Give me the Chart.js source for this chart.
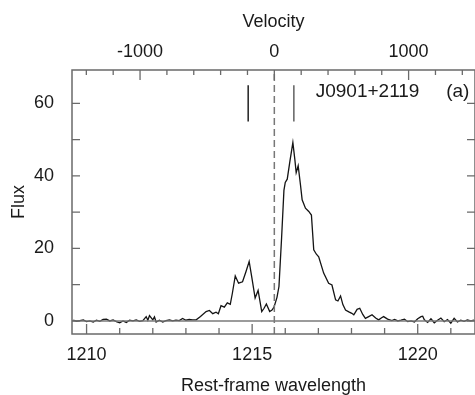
<!DOCTYPE html>
<html>
<head>
<meta charset="utf-8">
<script src="https://cdn.jsdelivr.net/npm/chart.js@4/dist/chart.umd.min.js"></script>
<style>
  body { margin: 0; background: #fff; }
  canvas { display: block; }
</style>
</head>
<body>
<canvas id="lyaChart" width="475" height="395"></canvas>
<script>
// Lyman-alpha profile of J0901+2119, rest frame

const wavelength = [
  1209.6, 1209.7, 1209.8, 1209.9, 1210.0, 1210.1, 1210.2, 1210.3, 1210.4, 1210.5,
  1210.6, 1210.7, 1210.8, 1210.9, 1211.0, 1211.1, 1211.2, 1211.3, 1211.4, 1211.5,
  1211.6, 1211.7, 1211.8, 1211.85, 1211.9, 1212.0, 1212.05, 1212.1, 1212.2, 1212.3,
  1212.4, 1212.5, 1212.6, 1212.7, 1212.8, 1212.9, 1213.0, 1213.1, 1213.2,
  1213.31, 1213.44, 1213.61, 1213.71, 1213.81, 1213.91, 1213.98, 1214.06, 1214.16, 1214.25,
  1214.34, 1214.40, 1214.49, 1214.59, 1214.71, 1214.81, 1214.91, 1214.99, 1215.09, 1215.18,
  1215.29, 1215.36, 1215.43, 1215.53, 1215.60, 1215.66, 1215.75, 1215.81, 1215.89, 1215.96,
  1216.00, 1216.06, 1216.14, 1216.23, 1216.29, 1216.33, 1216.39, 1216.46, 1216.51, 1216.61,
  1216.71, 1216.79, 1216.86, 1216.94, 1217.01, 1217.16, 1217.31, 1217.41, 1217.52, 1217.59,
  1217.67, 1217.74, 1217.82, 1217.92, 1218.01, 1218.07, 1218.17, 1218.25, 1218.34, 1218.42,
  1218.52, 1218.62, 1218.73, 1218.82, 1218.91, 1218.97, 1219.09, 1219.22,
  1219.3, 1219.4, 1219.5, 1219.6, 1219.7, 1219.8, 1219.9, 1220.0, 1220.1, 1220.15,
  1220.2, 1220.3, 1220.4, 1220.5, 1220.6, 1220.7, 1220.8, 1220.9, 1221.0, 1221.1,
  1221.2, 1221.3, 1221.4, 1221.5, 1221.6, 1221.7
];
const flux = [
  0.2, -0.1, 0.1, 0.3, -0.2, 0.0, -0.3, 0.2, -0.1, 0.4,
  0.5, 0.0, 0.3, -0.2, -0.5, 0.0, -0.4, 0.2, 0.0, 0.3,
  -0.1, 0.1, 1.2, 0.2, 1.5, 0.3, 1.1, -0.3, 0.2, -0.3,
  0.1, 0.3, 0.0, 0.2, 0.1, 0.7, 0.2, 0.4, 0.3,
  0.3, 1.2, 2.6, 2.9, 2.0, 2.4, 2.0, 4.2, 3.8, 5.0,
  4.6, 7.5, 12.4, 10.4, 10.8, 13.5, 16.4, 12.0, 6.3, 8.4,
  2.6, 3.5, 4.7, 2.6, 3.0, 3.8, 6.5, 9.5, 23.0, 36.0,
  38.2, 39.1, 44.0, 49.2, 44.5, 40.9, 42.8, 37.5, 33.4, 31.1,
  30.2, 29.2, 19.6, 18.4, 17.7, 13.2, 10.4, 9.9, 5.8, 5.5,
  6.9, 4.5, 3.0, 2.5, 2.1, 1.7, 3.2, 3.5, 1.8, 0.7,
  1.2, 1.7, 0.8, 0.3, 0.9, 1.2, 0.5, 0.1,
  0.4, 0.0, 0.2, 0.5, -0.2, 0.0, -0.3, 0.6, 1.2, 1.3,
  0.3, -0.4, 0.6, -0.5, 0.2, 0.8, -0.2, 0.4, -0.6, 0.7,
  -0.3, 0.2, -0.1, 0.3, 0.0, 0.2
];

// axis limits and ticks
const waveMin = 1209.56, waveMax = 1221.73;
const fluxMin = -3.6, fluxMax = 69.2;
const lyaRest = 1215.67;
const lightSpeed = 299792.458;
const waveTicks = [1210, 1211, 1212, 1213, 1214, 1215, 1216, 1217, 1218, 1219, 1220, 1221];
const waveLabels = [1210, 1215, 1220];
const velocityTicks = [-1400, -1200, -1000, -800, -600, -400, -200, 0, 200, 400, 600, 800, 1000, 1200, 1400];
const velocityLabels = [-1000, 0, 1000];
const fluxTicks = [0, 10, 20, 30, 40, 50, 60];
const fluxLabels = [0, 20, 40, 60];

// short component markers near the top
const markerWave = [1214.88, 1216.26];
const markerFlux = [55, 65];
const markerColors = ["#111111", "#555555"];

const toVelocity = (w) => (w - lyaRest) / lyaRest * lightSpeed;

const FONT = "'Liberation Sans', Arial, sans-serif";
const TEXT = "#1a1a1a";
const FRAME = "#6a6a6a";

// inward ticks, frame and the two labels
const framePlugin = {
  id: "frame",
  afterDatasetsDraw(chart) {
    const { ctx, chartArea: a, scales } = chart;
    ctx.save();
    ctx.strokeStyle = FRAME;
    ctx.lineWidth = 1.3;
    ctx.beginPath();
    scales.x.ticks.forEach((t) => {
      const px = scales.x.getPixelForValue(t.value);
      const len = waveLabels.includes(t.value) ? 10 : 6;
      ctx.moveTo(px, a.bottom);
      ctx.lineTo(px, a.bottom - len);
    });
    scales.x2.ticks.forEach((t) => {
      const px = scales.x2.getPixelForValue(t.value);
      const len = velocityLabels.includes(t.value) ? 10 : 5;
      ctx.moveTo(px, a.top);
      ctx.lineTo(px, a.top + len);
    });
    scales.y.ticks.forEach((t) => {
      const py = scales.y.getPixelForValue(t.value);
      ctx.moveTo(a.left, py);
      ctx.lineTo(a.left + 8, py);
      ctx.moveTo(a.right, py);
      ctx.lineTo(a.right - 8, py);
    });
    ctx.stroke();
    ctx.lineWidth = 1.5;
    ctx.strokeRect(a.left, a.top, a.right - a.left, a.bottom - a.top);

    ctx.fillStyle = TEXT;
    ctx.font = "19px " + FONT;
    ctx.textBaseline = "middle";
    ctx.textAlign = "left";
    const ty = scales.y.getPixelForValue(63.2);
    ctx.fillText("J0901+2119", scales.x.getPixelForValue(1216.92), ty);
    ctx.fillText("(a)", scales.x.getPixelForValue(1220.86), ty);
    ctx.restore();
  },
};

const tickFont = { family: FONT, size: 18 };

const ctx = document.getElementById("lyaChart").getContext("2d");
new Chart(ctx, {
  type: "line",
  data: {
    datasets: [
      {
        label: "zero",
        data: [{ x: waveMin, y: 0 }, { x: waveMax, y: 0 }],
        borderColor: "#7a7a7a",
        borderWidth: 1.5,
      },
      {
        label: "Lya",
        data: [{ x: lyaRest, y: fluxMin }, { x: lyaRest, y: fluxMax }],
        borderColor: "#777777",
        borderWidth: 1.5,
        borderDash: [7, 4],
      },
      {
        label: "spectrum",
        data: wavelength.map((w, i) => ({ x: w, y: flux[i] })),
        borderColor: "#141414",
        borderWidth: 1.3,
      },
      ...markerWave.map((w, i) => ({
        label: "marker" + i,
        data: markerFlux.map((f) => ({ x: w, y: f })),
        borderColor: markerColors[i],
        borderWidth: 1.4,
      })),
    ],
  },
  options: {
    responsive: false,
    animation: false,
    devicePixelRatio: 1,
    layout: { padding: { left: 0, right: -2, top: 0, bottom: 0 } },
    elements: { point: { radius: 0 }, line: { tension: 0 } },
    plugins: { legend: { display: false }, tooltip: { enabled: false } },
    scales: {
      x: {
        type: "linear",
        position: "bottom",
        min: waveMin,
        max: waveMax,
        afterFit: (s) => { s.height = 61; },
        afterBuildTicks: (s) => { s.ticks = waveTicks.map((v) => ({ value: v })); },
        grid: { display: false, drawTicks: false },
        border: { display: false },
        ticks: {
          autoSkip: false,
          maxRotation: 0,
          padding: 10,
          color: TEXT,
          font: tickFont,
          callback: (v) => (waveLabels.includes(v) ? String(v) : ""),
        },
        title: {
          display: true,
          text: "Rest-frame wavelength",
          color: TEXT,
          font: tickFont,
          padding: { top: 0, bottom: -2 },
        },
      },
      x2: {
        type: "linear",
        position: "top",
        min: toVelocity(waveMin),
        max: toVelocity(waveMax),
        afterFit: (s) => { s.height = 70; },
        afterBuildTicks: (s) => { s.ticks = velocityTicks.map((v) => ({ value: v })); },
        grid: { display: false, drawTicks: false },
        border: { display: false },
        ticks: {
          autoSkip: false,
          maxRotation: 0,
          padding: 7,
          color: TEXT,
          font: tickFont,
          callback: (v) => (velocityLabels.includes(v) ? String(v) : ""),
        },
        title: {
          display: true,
          text: "Velocity",
          color: TEXT,
          font: tickFont,
          padding: { top: 11, bottom: 0 },
        },
      },
      y: {
        type: "linear",
        min: fluxMin,
        max: fluxMax,
        afterFit: (s) => { s.width = 72; },
        afterBuildTicks: (s) => { s.ticks = fluxTicks.map((v) => ({ value: v })); },
        grid: { display: false, drawTicks: false },
        border: { display: false },
        ticks: {
          autoSkip: false,
          padding: 18,
          color: TEXT,
          font: tickFont,
          callback: (v) => (fluxLabels.includes(v) ? String(v) : ""),
        },
        title: {
          display: true,
          text: "Flux",
          color: TEXT,
          font: tickFont,
          padding: { top: 8, bottom: 0 },
        },
      },
    },
  },
  plugins: [framePlugin],
});
</script>
</body>
</html>
